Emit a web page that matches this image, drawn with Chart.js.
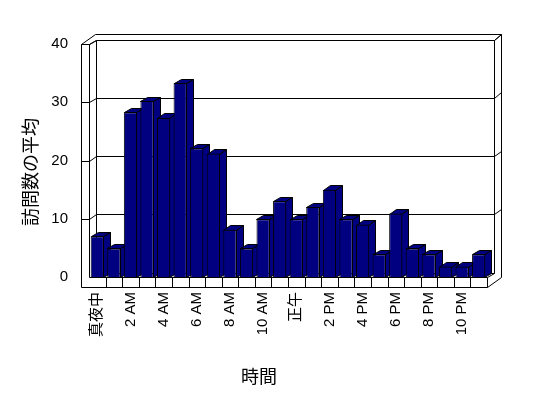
<!DOCTYPE html>
<html><head><meta charset="utf-8">
<script src="https://cdn.jsdelivr.net/npm/chart.js@4"></script>
<style>html,body{margin:0;padding:0;background:#fff;}</style>
</head><body>
<canvas id="c" width="548" height="398" style="display:block;width:548px;height:398px"></canvas>
<script>
// ---- data ----
const hours = ['真夜中','1 AM','2 AM','3 AM','4 AM','5 AM','6 AM','7 AM','8 AM','9 AM','10 AM','11 AM',
               '正午','1 PM','2 PM','3 PM','4 PM','5 PM','6 PM','7 PM','8 PM','9 PM','10 PM','11 PM'];
const visits = [7.0,4.9,28.3,30.2,27.3,33.3,22.1,21.2,8.1,4.9,9.9,13.0,
                9.9,12.0,15.0,9.9,9.0,3.9,10.9,4.9,3.9,1.8,1.8,3.9];
const yTicks = [0,10,20,30,40];
const yTitle = '訪問数の平均';
const xTitle = '時間';

// ---- style ----
const NAVY = '#000080';
const DX = 7, DY = -4.5;     // bar / wall depth
const EX = 7, EY = -5.5;     // back wall thickness
const WALL = 8, FLOOR = 10;  // left wall and floor thickness

const s = v => Math.round(v) + 0.5;
function line(ctx, pts) {
  ctx.beginPath();
  ctx.moveTo(s(pts[0][0]), s(pts[0][1]));
  for (let i = 1; i < pts.length; i++) ctx.lineTo(s(pts[i][0]), s(pts[i][1]));
  ctx.stroke();
}
function poly(ctx, pts) {
  ctx.beginPath();
  ctx.moveTo(s(pts[0][0]), s(pts[0][1]));
  for (let i = 1; i < pts.length; i++) ctx.lineTo(s(pts[i][0]), s(pts[i][1]));
  ctx.closePath();
  ctx.fill();
  ctx.stroke();
}

const box3d = {
  id: 'box3d',
  beforeDatasetsDraw(chart) {
    const {ctx, chartArea: a, scales: {x, y}} = chart;
    const L = a.left, R = a.right;
    const B = y.getPixelForValue(yTicks[0]);
    const T = y.getPixelForValue(yTicks[yTicks.length - 1]);
    ctx.save();
    ctx.lineWidth = 1;
    ctx.strokeStyle = '#000';
    // back wall grid lines, left-wall ticks and right-edge continuations
    yTicks.forEach(v => {
      const yf = y.getPixelForValue(v), yb = yf + DY;
      line(ctx, [[L + DX, yb], [R + DX, yb]]);
      if (v > yTicks[0]) {
        line(ctx, [[L - WALL, yf], [L, yf], [L + DX, yb]]);
        line(ctx, [[R + DX, yb], [R + DX + EX, yb + EY]]);
      }
    });
    // back wall front face edges
    line(ctx, [[L + DX, T + DY], [L + DX, B + DY]]);
    line(ctx, [[R + DX, T + DY], [R + DX, B + DY]]);
    // top outline
    line(ctx, [[L - WALL, T], [L - WALL + DX + EX, T + DY + EY], [R + DX + EX, T + DY + EY],
               [R + DX + EX, B + FLOOR + DY + EY], [R, B + FLOOR]]);
    line(ctx, [[L - WALL, T], [L, T], [L + DX, T + DY]]);
    line(ctx, [[R + DX, T + DY], [R + DX + EX, T + DY + EY]]);
    // left wall and floor front faces
    line(ctx, [[L - WALL, T], [L - WALL, B + FLOOR], [R, B + FLOOR], [R, B], [L, B], [L, T]]);
    line(ctx, [[R, B], [R + DX, B + DY]]);
    // category dividers on the floor front face
    for (let i = 1; i < hours.length; i++) {
      const xx = (x.getPixelForValue(i - 1) + x.getPixelForValue(i)) / 2;
      line(ctx, [[xx, B], [xx, B + FLOOR]]);
    }
    // bar side and top faces
    ctx.fillStyle = NAVY;
    chart.getDatasetMeta(0).data.forEach(el => {
      const p = el.getProps(['x', 'y', 'base', 'width'], true);
      const l = p.x - p.width / 2, r = p.x + p.width / 2 - 1, t = p.y, b = p.base;
      poly(ctx, [[r, t], [r + DX, t + DY], [r + DX, b + DY], [r, b]]);
      poly(ctx, [[l, t], [l + DX, t + DY], [r + DX, t + DY], [r, t]]);
    });
    ctx.restore();
  },
  afterDraw(chart) {
    const ctx = chart.ctx;
    ctx.save();
    ctx.fillStyle = '#000';
    ctx.font = '18px "Noto Sans CJK JP", sans-serif';
    ctx.textAlign = 'center';
    ctx.textBaseline = 'middle';
    ctx.fillText(xTitle, 259, 376);
    ctx.translate(30, 172);
    ctx.rotate(-Math.PI / 2);
    ctx.fillText(yTitle, 0, 0);
    ctx.restore();
  }
};

new Chart(document.getElementById('c'), {
  type: 'bar',
  data: {
    labels: hours,
    datasets: [{
      data: visits,
      backgroundColor: NAVY,
      borderColor: '#000',
      borderWidth: 1,
      barPercentage: 0.8,
      categoryPercentage: 1.0
    }]
  },
  options: {
    responsive: false,
    animation: false,
    devicePixelRatio: 1,
    events: [],
    layout: { padding: { left: 0, right: 61, top: 44, bottom: 0 } },
    plugins: { legend: { display: false }, tooltip: { enabled: false } },
    scales: {
      x: {
        grid: { display: false, drawTicks: false },
        border: { display: false },
        afterFit: sc => { sc.height = 121; },
        ticks: {
          autoSkip: false, minRotation: 90, maxRotation: 90, padding: 15,
          color: '#000',
          font: { family: '"Liberation Sans", "Noto Sans CJK JP", sans-serif', size: 15 },
          callback: (v, i) => (i % 2 === 0 ? hours[i] : '')
        }
      },
      y: {
        min: 0, max: 40,
        grid: { display: false, drawTicks: false },
        border: { display: false },
        afterFit: sc => { sc.width = 89; },
        afterBuildTicks: sc => { sc.ticks = yTicks.map(v => ({ value: v })); },
        ticks: {
          padding: 21, color: '#000',
          font: { family: '"Liberation Sans", sans-serif', size: 15 }
        }
      }
    }
  },
  plugins: [box3d]
});
</script>
</body></html>
